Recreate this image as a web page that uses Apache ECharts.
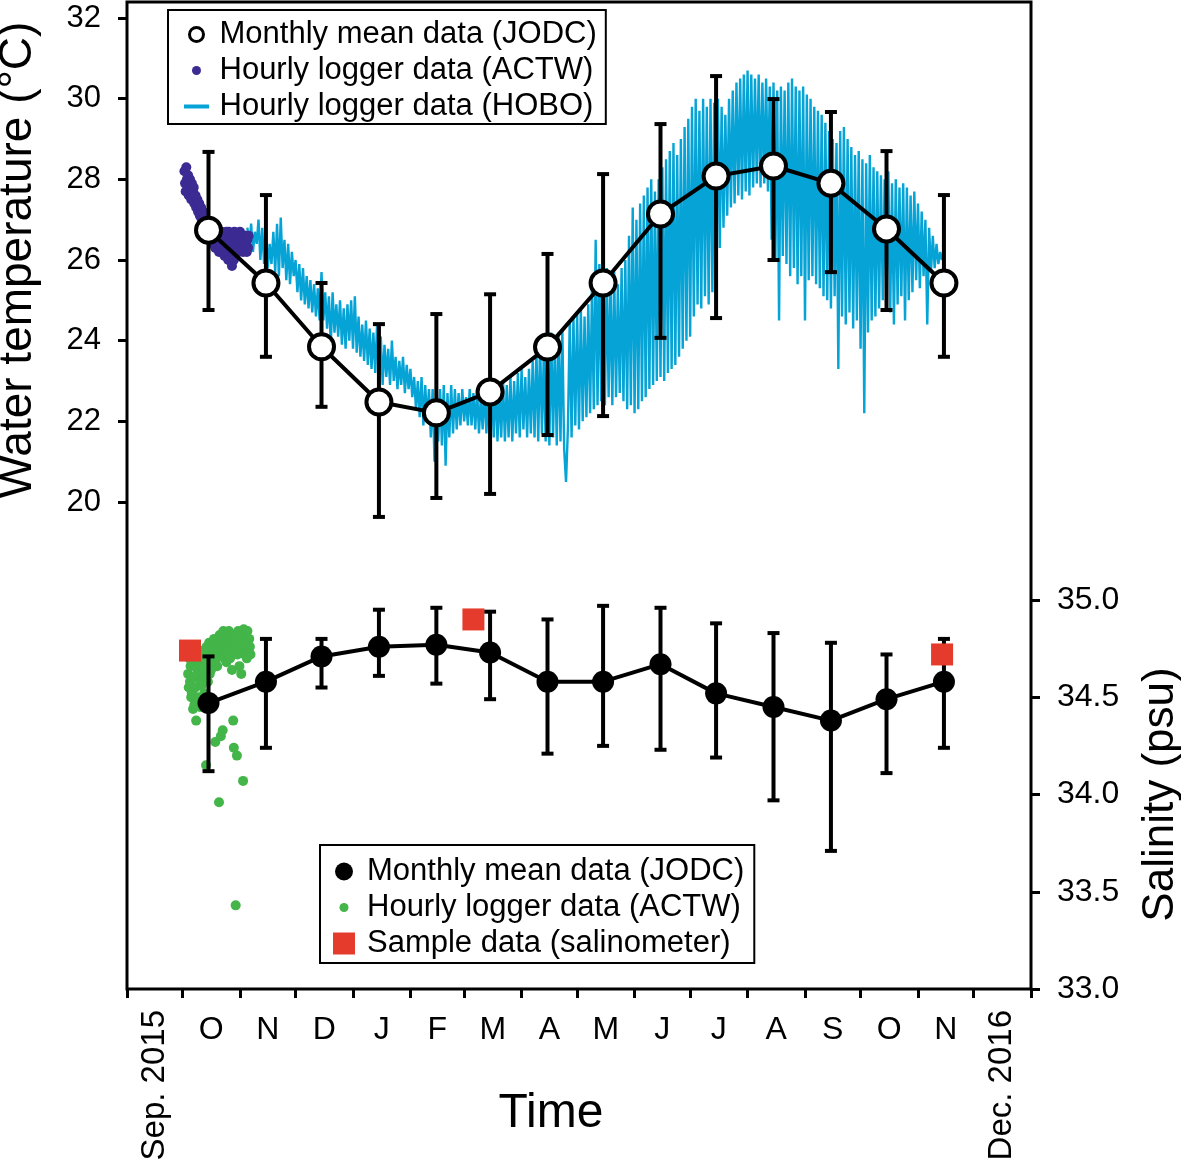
<!DOCTYPE html>
<html><head><meta charset="utf-8">
<script src="https://cdn.jsdelivr.net/npm/echarts@6/dist/echarts.min.js"></script>
<style>html,body{margin:0;padding:0;background:#fff}#c{width:1181px;height:1166px}</style>
</head><body><div id="c"></div>
<script>
// ---------- data ----------
const axisStart = '2015-09-01';
const monthStarts = ['2015-09-01','2015-10-01','2015-11-01','2015-12-01','2016-01-01','2016-02-01','2016-03-01','2016-04-01','2016-05-01','2016-06-01','2016-07-01','2016-08-01','2016-09-01','2016-10-01','2016-11-01','2016-12-01','2017-01-01'];
const monthLabels = ['Sep. 2015','O','N','D','J','F','M','A','M','J','J','A','S','O','N','Dec. 2016'];

const meanDates = ['2015-10-15','2015-11-15','2015-12-15','2016-01-15','2016-02-15','2016-03-15','2016-04-15','2016-05-15','2016-06-15','2016-07-15','2016-08-15','2016-09-15','2016-10-15','2016-11-15'];
const tempMean = [26.74, 25.43, 23.85, 22.48, 22.21, 22.73, 23.84, 25.43, 27.14, 28.08, 28.33, 27.90, 26.77, 25.43];
const tempHigh = [28.68, 27.61, 25.43, 24.41, 24.66, 25.15, 26.15, 28.13, 29.37, 30.56, 29.99, 29.67, 28.70, 27.61];
const tempLow  = [24.76, 23.60, 22.36, 19.63, 20.10, 20.20, 21.66, 22.13, 24.07, 24.56, 26.00, 25.70, 24.76, 23.60];

const salMean = [34.47, 34.58, 34.71, 34.76, 34.77, 34.73, 34.58, 34.58, 34.67, 34.52, 34.45, 34.38, 34.49, 34.58];
const salHigh = [34.71, 34.80, 34.80, 34.95, 34.96, 34.94, 34.90, 34.97, 34.96, 34.88, 34.83, 34.78, 34.72, 34.80];
const salLow  = [34.12, 34.24, 34.55, 34.61, 34.57, 34.49, 34.21, 34.25, 34.23, 34.19, 33.97, 33.71, 34.11, 34.24];

const sampleDates = ['2015-10-05','2016-03-06','2016-11-14'];
const sampleSal = [34.74, 34.90, 34.72];

// ACTW temperature, three readings per day starting at this date
const actwTempStart = '2015-10-02';
const actwTempDaily = [
 [28.2,27.9,27.7],[28.3,28.0,27.8],[28.1,27.6,27.9],[28.0,27.7,27.5],[27.9,27.5,27.7],
 [27.8,27.4,27.6],[27.6,27.3,27.5],[27.5,27.2,27.4],[27.4,27.1,27.3],[27.3,27.0,27.2],
 [27.2,26.9,27.0],[27.1,26.8,26.9],[27.0,26.7,26.8],[26.9,26.6,26.8],[26.8,26.5,26.7],
 [26.8,26.6,26.4],[26.7,26.5,26.3],[26.6,26.4,26.7],[26.7,26.4,26.2],[26.6,26.3,26.5],
 [26.7,26.2,26.5],[26.6,26.3,26.1],[26.5,26.2,26.7],[26.6,26.3,26.0],[26.7,26.4,26.1],
 [26.5,26.2,25.85],[26.6,26.3,26.0],[26.7,26.4,26.2],[26.5,26.3,26.6],[26.6,26.2,26.4],
 [26.7,26.3,26.5],[26.6,26.4,26.2],[26.5,26.3,26.6],[26.6,26.4,26.2],[26.5,26.3,26.6]
];

// ACTW salinity, three readings per day starting at this date
const actwSalStart = '2015-10-04';
const actwSalDaily = [
 [34.62,34.55,34.70],[34.58,34.66,34.50],[34.52,34.68,34.44],[34.60,34.46,34.72],[34.55,34.38,34.65],
 [34.62,34.50,34.74],[34.68,34.45,34.58],[34.70,34.56,34.62],[34.65,34.74,34.52],[34.72,34.60,34.15],
 [34.76,34.66,34.58],[34.70,34.78,34.62],[34.74,34.64,34.45],[34.78,34.68,34.72],[34.80,34.72,34.27],
 [34.76,34.70,34.66],[34.78,34.74,33.96],[34.82,34.76,34.30],[34.80,34.72,34.33],[34.84,34.78,34.70],
 [34.82,34.74,34.68],[34.80,34.76,34.72],[34.84,34.78,34.70],[34.82,34.75,34.64],[34.78,34.38,34.24],
 [34.80,34.74,33.43],[34.82,34.20,34.72],[34.84,34.78,34.66],[34.80,34.74,34.62],[34.83,34.76,34.07],
 [34.85,34.78,34.72],[34.82,34.76,34.70],[34.84,34.80,34.74],[34.80,34.76,34.72]
];

// HOBO temperature, one reading per day starting at this date
const hoboStart = '2015-11-05';
const hoboTemp = [
 26.8,26.3,26.9,26.2,26.7,26.4,27.0,26.0,26.8,25.9,
 26.6,25.8,26.4,25.9,26.7,25.7,26.9,25.6,27.05,25.8,
 26.5,25.5,26.4,25.4,26.2,25.6,26.0,25.2,25.9,25.0,
 25.8,24.9,25.6,24.8,25.5,24.7,25.4,24.6,25.3,24.5,
 25.7,24.5,25.2,24.3,25.1,23.9,25.2,24.2,24.9,24.1,
 25.0,23.9,24.8,23.8,24.9,24.0,25.0,23.8,25.1,23.7,
 24.6,23.6,24.4,23.5,24.5,23.4,24.3,23.3,24.2,23.2,
 24.4,23.0,24.1,22.9,23.9,23.1,23.8,22.9,24.0,23.0,
 23.6,22.8,23.5,22.9,23.6,22.7,23.4,22.8,23.3,22.6,
 23.1,22.3,23.0,22.1,23.1,21.9,22.9,22.0,22.8,21.6,
 22.8,21.0,22.6,21.5,22.8,21.4,22.9,20.9,22.7,21.6,
 22.9,21.7,22.8,21.8,22.7,21.9,22.8,22.0,22.6,21.9,
 22.8,21.9,22.7,21.8,22.8,21.7,22.6,21.8,22.8,21.7,
 22.7,21.7,22.9,21.6,23.0,21.5,22.8,21.6,23.0,21.5,
 22.9,21.6,23.1,21.5,23.0,21.7,23.2,21.6,23.3,21.8,
 23.1,21.6,23.3,21.7,23.5,21.6,23.8,21.5,24.0,21.7,
 23.7,21.5,24.1,21.4,24.2,21.6,24.0,21.4,24.2,21.5,
 24.3,21.3,20.5,21.8,24.5,21.6,24.6,21.9,24.7,21.8,
 24.8,22.0,24.6,22.1,24.9,22.2,25.3,22.3,26.5,22.4,
 25.9,22.5,25.6,22.4,25.8,22.6,25.5,22.4,25.7,22.6,
 25.4,22.7,25.8,22.5,26.0,22.3,26.6,22.4,27.3,22.2,
 27.0,22.3,27.4,22.5,27.6,22.6,27.8,22.8,28.0,22.9,
 27.7,23.0,28.0,23.1,28.3,23.0,28.5,23.2,28.7,23.3,
 28.9,23.4,28.6,23.6,29.0,23.8,29.3,24.0,29.5,24.1,
 29.8,24.6,30.0,24.9,29.7,24.8,30.0,25.1,29.8,24.9,
 30.0,25.2,29.9,25.6,30.0,26.3,29.8,26.8,29.6,27.1,
 30.0,27.3,30.2,27.4,30.4,27.6,30.5,27.5,30.6,27.7,
 30.7,27.6,30.6,27.8,30.5,27.9,30.6,27.8,30.4,27.9,
 30.5,27.7,30.3,26.5,30.4,26.0,30.2,24.5,30.3,26.1,
 30.2,25.9,30.4,25.6,30.5,25.8,30.3,25.4,30.2,25.6,
 30.3,24.5,30.1,25.5,30.0,25.6,29.8,25.4,29.7,25.3,
 29.6,25.1,29.4,25.0,29.2,24.8,29.0,25.1,28.9,23.3,
 29.2,24.6,29.3,24.4,29.0,24.7,28.8,24.3,28.6,24.5,
 28.7,23.8,28.5,22.2,28.4,24.2,28.6,24.5,28.3,24.6,
 28.2,24.8,28.1,25.0,28.0,24.9,28.2,24.7,27.9,24.4,
 28.0,24.9,27.8,25.1,27.9,24.5,27.8,25.0,27.6,25.2,
 27.7,25.5,27.4,25.3,27.2,25.6,27.0,24.4,26.8,25.7,
 26.6,25.8,26.4,25.9,26.2,26.0
];

// ---------- helpers ----------
const DAY = 86400000;
const t0 = Date.parse(axisStart);
const dayOf = s => (Date.parse(s) - t0) / DAY;
const tickDays = monthStarts.map(dayOf);
const midDays = tickDays.slice(0, -1).map((d, i) => (d + tickDays[i + 1]) / 2);
const axisMax = tickDays[tickDays.length - 1];
const monthFmt = v => { const i = midDays.findIndex(m => Math.abs(m - v) < 1e-6); return i >= 0 ? monthLabels[i] : ''; };

const meanDays = meanDates.map(dayOf);
const tempMeanData = meanDays.map((d, i) => [d, tempMean[i]]);
const tempErrData = meanDays.map((d, i) => [d, tempHigh[i], tempLow[i]]);
const salMeanData = meanDays.map((d, i) => [d, salMean[i]]);
const salErrData = meanDays.map((d, i) => [d, salHigh[i], salLow[i]]);
const sampleData = sampleDates.map((s, i) => [dayOf(s), sampleSal[i]]);
const expand = (start, daily) => { const d0 = dayOf(start); const out = []; daily.forEach((tr, i) => tr.forEach((v, k) => out.push([d0 + i + k / 3, v]))); return out; };
const actwTempData = expand(actwTempStart, actwTempDaily);
const actwSalData = expand(actwSalStart, actwSalDaily);
const hoboData = hoboTemp.map((v, i) => [dayOf(hoboStart) + i, v]);

const FONT = '"Liberation Sans", Arial, Helvetica, sans-serif';
const errRender = (params, api) => {
  const x = api.value(0);
  const a = api.coord([x, api.value(1)]);
  const b = api.coord([x, api.value(2)]);
  const c = 6, st = { stroke: '#000', lineWidth: 4 };
  return { type: 'group', children: [
    { type: 'line', shape: { x1: a[0], y1: a[1], x2: b[0], y2: b[1] }, style: st },
    { type: 'line', shape: { x1: a[0] - c, y1: a[1], x2: a[0] + c, y2: a[1] }, style: st },
    { type: 'line', shape: { x1: b[0] - c, y1: b[1], x2: b[0] + c, y2: b[1] }, style: st }
  ]};
};

const COL_HOBO = '#06a3d6', COL_PURPLE = '#3b2b93', COL_GREEN = '#43b549', COL_RED = '#e53b2c';
const iconCircle = r => `path://M0,0M36,24M${18 - r},12A${r},${r},0,1,1,${18 + r},12A${r},${r},0,1,1,${18 - r},12Z`;
const iconBar = 'path://M0,0M36,24M5.5,10H30.5V14H5.5Z';
const iconSquare = 'path://M0,0M36,24M7,1H29V23H7Z';

const hiddenX = g => ({ gridIndex: g, type: 'value', min: 0, max: axisMax, show: false });
const legendBase = {
  orient: 'vertical', itemWidth: 36, itemHeight: 24, itemGap: 5, selectedMode: false,
  borderColor: '#000', borderWidth: 2, backgroundColor: '#fff',
  textStyle: { fontSize: 31, color: '#000', fontFamily: FONT },
  formatter: n => n.split('|')[1]
};
const gridBase = { left: 127, right: 150, outerBoundsMode: 'none', containLabel: false };
const tickStyle = { show: true, length: 9, lineStyle: { color: '#000', width: 3 } };

const option = {
  animation: false,
  textStyle: { fontFamily: FONT },
  grid: [
    Object.assign({}, gridBase, { top: 2, bottom: 177, show: true, borderColor: '#000', borderWidth: 3, backgroundColor: 'transparent' }),
    Object.assign({}, gridBase, { top: 18, bottom: 664 }),
    Object.assign({}, gridBase, { top: 600, bottom: 177 })
  ],
  xAxis: [
    { gridIndex: 0, type: 'value', min: 0, max: axisMax, position: 'bottom',
      axisLine: { show: false, onZero: false }, splitLine: { show: false },
      axisTick: Object.assign({ customValues: tickDays }, tickStyle),
      axisLabel: { customValues: midDays.slice(1, -1), formatter: monthFmt, fontSize: 32, color: '#000', margin: 25, fontFamily: FONT },
      name: 'Time', nameLocation: 'middle', nameGap: 101,
      nameTextStyle: { fontSize: 48, color: '#000', fontFamily: FONT, padding: [0, 56, 0, 0] } },
    { gridIndex: 0, type: 'value', min: 0, max: axisMax, position: 'bottom',
      axisLine: { show: false, onZero: false }, splitLine: { show: false }, axisTick: { show: false },
      axisLabel: { customValues: [midDays[0], midDays[midDays.length - 1]], formatter: monthFmt, rotate: 90, fontSize: 33, color: '#000', margin: 21, fontFamily: FONT } },
    hiddenX(1), hiddenX(2)
  ],
  yAxis: [
    { gridIndex: 0, type: 'value', min: 0, max: 1, show: false, axisLine: { onZero: false } },
    { gridIndex: 1, type: 'value', min: 20, max: 32, interval: 2, position: 'left',
      axisLine: { show: false, onZero: false }, splitLine: { show: false },
      axisTick: tickStyle,
      axisLabel: { fontSize: 31, color: '#000', margin: 26, fontFamily: FONT },
      name: 'Water temperature (°C)', nameLocation: 'middle', nameRotate: 90, nameGap: 86,
      nameTextStyle: { fontSize: 46, color: '#000', fontFamily: FONT } },
    { gridIndex: 2, type: 'value', min: 33, max: 35, interval: 0.5, position: 'right',
      axisLine: { show: false, onZero: false }, splitLine: { show: false },
      axisTick: tickStyle,
      axisLabel: { fontSize: 32, color: '#000', margin: 26, fontFamily: FONT, formatter: v => v.toFixed(1) },
      name: 'Salinity (psu)', nameLocation: 'middle', nameRotate: 90, nameGap: 108,
      nameTextStyle: { fontSize: 44, color: '#000', fontFamily: FONT } }
  ],
  legend: [
    Object.assign({}, legendBase, { left: 168, top: 10, padding: [9, 9, 2, 9],
      data: [
        { name: 'T|Monthly mean data (JODC)', icon: iconCircle(7), itemStyle: { color: '#fff', borderColor: '#000', borderWidth: 3 } },
        { name: 'T|Hourly logger data (ACTW)', icon: iconCircle(4.5), itemStyle: { color: COL_PURPLE, borderWidth: 0 } },
        { name: 'T|Hourly logger data (HOBO)', icon: iconBar, itemStyle: { color: COL_HOBO, borderWidth: 0 } }
      ] }),
    Object.assign({}, legendBase, { left: 320, top: 845, padding: [11, 10, 4, 6],
      data: [
        { name: 'S|Monthly mean data (JODC)', icon: iconCircle(9), itemStyle: { color: '#000', borderWidth: 0 } },
        { name: 'S|Hourly logger data (ACTW)', icon: iconCircle(4.5), itemStyle: { color: COL_GREEN, borderWidth: 0 } },
        { name: 'S|Sample data (salinometer)', icon: iconSquare, itemStyle: { color: COL_RED, borderWidth: 0 } }
      ] })
  ],
  series: [
    { name: 'T|Hourly logger data (HOBO)', type: 'line', xAxisIndex: 2, yAxisIndex: 1, data: hoboData,
      showSymbol: false, symbol: 'none', clip: false, z: 2,
      lineStyle: { color: COL_HOBO, width: 2.4 }, itemStyle: { color: COL_HOBO } },
    { name: 'T|Hourly logger data (ACTW)', type: 'scatter', xAxisIndex: 2, yAxisIndex: 1, data: actwTempData,
      symbolSize: 10, clip: false, z: 3, itemStyle: { color: COL_PURPLE, opacity: 1 } },
    { name: 'T|err', type: 'custom', xAxisIndex: 2, yAxisIndex: 1, data: tempErrData, renderItem: errRender,
      encode: { x: 0, y: [1, 2] }, clip: false, z: 4 },
    { name: 'T|Monthly mean data (JODC)', type: 'line', xAxisIndex: 2, yAxisIndex: 1, data: tempMeanData,
      symbol: 'circle', symbolSize: 25, clip: false, z: 5,
      lineStyle: { color: '#000', width: 4 }, itemStyle: { color: '#fff', borderColor: '#000', borderWidth: 4 } },
    { name: 'S|Hourly logger data (ACTW)', type: 'scatter', xAxisIndex: 3, yAxisIndex: 2, data: actwSalData,
      symbolSize: 10, clip: false, z: 2, itemStyle: { color: COL_GREEN, opacity: 1 } },
    { name: 'S|err', type: 'custom', xAxisIndex: 3, yAxisIndex: 2, data: salErrData, renderItem: errRender,
      encode: { x: 0, y: [1, 2] }, clip: false, z: 4 },
    { name: 'S|Monthly mean data (JODC)', type: 'line', xAxisIndex: 3, yAxisIndex: 2, data: salMeanData,
      symbol: 'circle', symbolSize: 22, clip: false, z: 5,
      lineStyle: { color: '#000', width: 4 }, itemStyle: { color: '#000' } },
    { name: 'S|Sample data (salinometer)', type: 'scatter', xAxisIndex: 3, yAxisIndex: 2, data: sampleData,
      symbol: 'rect', symbolSize: 22, clip: false, z: 6, itemStyle: { color: COL_RED, opacity: 1 } }
  ]
};
const chart = echarts.init(document.getElementById('c'), null, { renderer: 'canvas' });
chart.setOption(option);
</script>
</body></html>
